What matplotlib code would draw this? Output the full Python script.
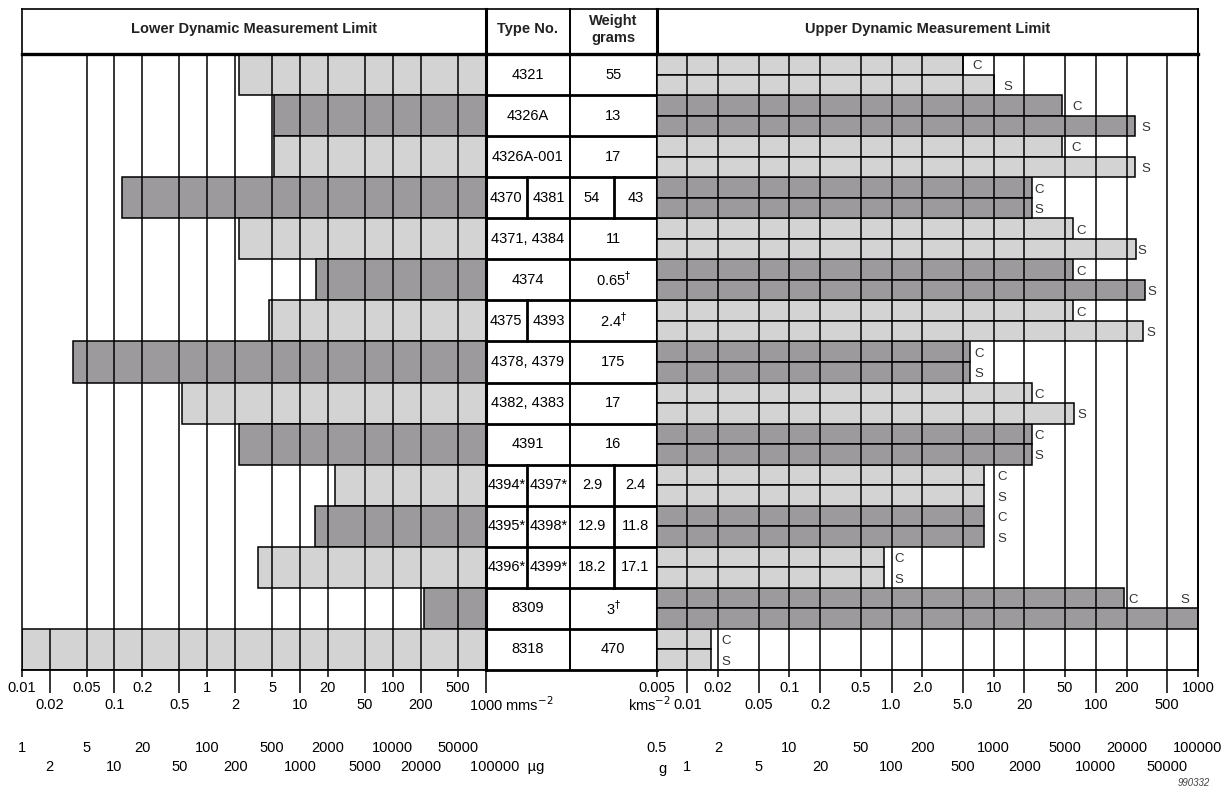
import numpy as np
import matplotlib
matplotlib.use('Agg')
import matplotlib.pyplot as plt
from matplotlib import font_manager

# ------------------------------------------------------------------
# values
# ------------------------------------------------------------------
type_no = ["4321", "4326A", "4326A-001", "4370|4381", "4371, 4384", "4374",
           "4375|4393", "4378, 4379", "4382, 4383", "4391", "4394*|4397*",
           "4395*|4398*", "4396*|4399*", "8309", "8318"]
weight_g = ["55", "13", "17", "54|43", "11", r"0.65$^{\dagger}$", r"2.4$^{\dagger}$",
            "175", "17", "16", "2.9|2.4", "12.9|11.8", "18.2|17.1", r"3$^{\dagger}$", "470"]

# lower dynamic limit (mms^-2)
lower_limit = [2.2, 5.3, 5.3, 0.12, 2.2, 15, 4.6, 0.036, 0.53, 2.2, 24, 14.5, 3.5, 215, 0.01]
# upper dynamic limit (kms^-2), C and S
upper_c = [5, 47, 47, 23.5, 60, 60, 60, 5.9, 23.5, 23.5, 8, 8, 0.85, 190, 0.017]
upper_s = [10, 240, 240, 23.5, 245, 300, 290, 5.9, 61, 23.5, 8, 8, 0.85, 1000, 0.017]

mms_ticks = [0.01, 0.02, 0.05, 0.1, 0.2, 0.5, 1, 2, 5, 10, 20, 50, 100, 200, 500, 1000]
mms_labels = ["0.01", "0.02", "0.05", "0.1", "0.2", "0.5", "1", "2", "5", "10", "20",
              "50", "100", "200", "500", "1000"]
ug_labels = ["1", "2", "5", "10", "20", "50", "100", "200", "500", "1000", "2000", "5000",
             "10000", "20000", "50000", "100000"]
kms_ticks = [0.005, 0.01, 0.02, 0.05, 0.1, 0.2, 0.5, 1, 2, 5, 10, 20, 50, 100, 200, 500, 1000]
kms_labels = ["0.005", "0.01", "0.02", "0.05", "0.1", "0.2", "0.5", "1.0", "2.0", "5.0",
              "10", "20", "50", "100", "200", "500", "1000"]
g_labels = ["0.5", "1", "2", "5", "10", "20", "50", "100", "200", "500", "1000", "2000",
            "5000", "10000", "20000", "50000", "100000"]

# ------------------------------------------------------------------
names = {f.name for f in font_manager.fontManager.ttflist}
FONT = 'Liberation Sans Narrow' if 'Liberation Sans Narrow' in names else 'Liberation Sans'
plt.rcParams['font.family'] = [FONT, 'DejaVu Sans']

LIGHT, DARK = '#d3d3d3', '#9c9a9c'
W, H = 1222, 789
TOP, BOT = 54, 670
XL0, XL1, XT1, XR1 = 21.7, 485.5, 656.5, 1198
PANEL_H = BOT - TOP
LW = 1.1
FS = 10.5

fig = plt.figure(figsize=(W / 100, H / 100), dpi=100)


def box(x0, y0, x1, y1):
    return [x0 / W, 1 - y1 / H, (x1 - x0) / W, (y1 - y0) / H]


def yfrac(ypx):
    # pixel row below the panels -> axes fraction
    return -(ypx - BOT) / PANEL_H


n = len(type_no)
rows = np.arange(n)
colors = [LIGHT if i % 2 == 0 else DARK for i in rows]

ax_l = fig.add_axes(box(XL0, TOP, XL1, BOT))
ax_t = fig.add_axes(box(XL1, TOP, XT1, BOT))
ax_r = fig.add_axes(box(XT1, TOP, XR1, BOT))
ax_h = fig.add_axes(box(XL0, 9, XR1, TOP))

for ax in (ax_l, ax_r):
    ax.set_xscale('log')
    ax.set_ylim(n, 0)
    ax.tick_params(which='both', length=0, labelbottom=False, labelleft=False)
    for s in ax.spines.values():
        s.set_visible(False)
    ax.spines['bottom'].set_visible(True)
    ax.spines['bottom'].set_linewidth(1.3)
    ax.patch.set_alpha(0)

# ---------------- left panel ----------------
ax_l.set_xlim(0.01, 1000)
lower = np.array(lower_limit)
ax_l.barh(rows + 0.5, 1000 - lower, left=lower, height=1.0, color=colors,
          edgecolor='black', linewidth=LW, zorder=2)
for v in mms_ticks[2:-1]:
    ax_l.axvline(v, color='black', lw=LW, zorder=3)
ax_l.vlines(0.02, n - 1, n, color='black', lw=LW, zorder=3)
ax_l.spines['left'].set_visible(True)
ax_l.spines['left'].set_linewidth(LW)

# ---------------- right panel ----------------
ax_r.set_xlim(0.005, 1000)
uc, us = np.array(upper_c), np.array(upper_s)
ax_r.barh(rows + 0.25, uc - 0.005, left=0.005, height=0.5, color=colors,
          edgecolor='black', linewidth=LW, zorder=2)
ax_r.barh(rows + 0.75, us - 0.005, left=0.005, height=0.5, color=colors,
          edgecolor='black', linewidth=LW, zorder=2)
for v in kms_ticks[1:-1]:
    ax_r.axvline(v, color='black', lw=LW, zorder=3)
ax_r.spines['right'].set_visible(True)
ax_r.spines['right'].set_linewidth(1.4)

# C / S labels (gap to bar end in px)
c_gap = [9, 10, 9, 3, 3, 3, 3, 4, 3, 3, 14, 14, 10, 4, 11]
s_gap = [10, 7, 7, 3, 2, 3, 3, 4, 4, 3, 14, 14, 10, None, 11]
for i in rows:
    ax_r.annotate('C', (uc[i], i + 0.25), xytext=(c_gap[i] * 0.72, -1.5),
                  textcoords='offset points', ha='left', va='center', fontsize=FS - 1,
                  color='#333333', zorder=5)
    if s_gap[i] is None:
        ax_r.annotate('S', (1000, i + 0.25), xytext=(-6, -1.5),
                      textcoords='offset points', ha='right', va='center',
                      fontsize=FS - 1, color='#333333', zorder=5)
    else:
        ax_r.annotate('S', (us[i], i + 0.75), xytext=(s_gap[i] * 0.72, -1.5),
                      textcoords='offset points', ha='left', va='center',
                      fontsize=FS - 1, color='#333333', zorder=5)

# ---------------- axis ticks & unit labels ----------------
def scale_labels(ax, ticks, first, second):
    tr = ax.get_xaxis_transform()
    for k, (v, a, b) in enumerate(zip(ticks, first, second)):
        low = k % 2 == 1
        ax.vlines(v, yfrac(693 if low else 677), 0, transform=tr, color='black',
                  lw=LW, clip_on=False)
        ax.text(v, yfrac(705 if low else 688), a, transform=tr, ha='center',
                va='center', fontsize=FS, clip_on=False)
        ax.text(v, yfrac(767 if low else 748), b, transform=tr, ha='center',
                va='center', fontsize=FS, clip_on=False)


scale_labels(ax_l, mms_ticks[:-1], mms_labels[:-1], ug_labels[:-1])
scale_labels(ax_r, kms_ticks, kms_labels, g_labels)

# last left tick carries the unit names
trl = ax_l.get_xaxis_transform()
ax_l.vlines(1000, yfrac(693), 0, transform=trl, color='black', lw=LW, clip_on=False)
ax_l.annotate('1000 mms$^{-2}$', (1000, yfrac(705)), xycoords=trl, xytext=(-12, 0),
              textcoords='offset points', ha='left', va='center', fontsize=FS,
              annotation_clip=False)
ax_l.annotate('100000  \u00b5g', (1000, yfrac(767)), xycoords=trl, xytext=(-11, 0),
              textcoords='offset points', ha='left', va='center', fontsize=FS,
              annotation_clip=False)
trr = ax_r.get_xaxis_transform()
ax_r.annotate('kms$^{-2}$', (0.01, yfrac(705)), xycoords=trr, xytext=(-12, 0),
              textcoords='offset points', ha='right', va='center', fontsize=FS,
              annotation_clip=False)
ax_r.annotate('g', (0.01, yfrac(769)), xycoords=trr, xytext=(-18, 0),
              textcoords='offset points', ha='center', va='center', fontsize=FS,
              annotation_clip=False)

# ---------------- table ----------------
TW = XT1 - XL1
XC = 570 - XL1
XS1, XS2 = 527 - XL1, 614 - XL1
ax_t.set_xlim(0, TW)
ax_t.set_ylim(n, 0)
ax_t.axis('off')
for i in range(n + 1):
    ax_t.plot([0, TW], [i, i], color='black', lw=2.0, clip_on=False, solid_capstyle='butt')
ax_t.plot([0, 0], [0, n], color='black', lw=2.2, clip_on=False)
ax_t.plot([TW, TW], [0, n], color='black', lw=2.2, clip_on=False)
ax_t.plot([XC, XC], [0, n], color='black', lw=1.4, clip_on=False)

for i, (t, w) in enumerate(zip(type_no, weight_g)):
    yc = i + 0.5
    if '|' in t:
        a, b = t.split('|')
        ax_t.plot([XS1, XS1], [i, i + 1], color='black', lw=2.0)
        ax_t.text(XS1 / 2, yc, a, ha='center', va='center', fontsize=FS)
        ax_t.text((XS1 + XC) / 2, yc, b, ha='center', va='center', fontsize=FS)
    else:
        ax_t.text(XC / 2, yc, t, ha='center', va='center', fontsize=FS)
    if '|' in w:
        a, b = w.split('|')
        ax_t.plot([XS2, XS2], [i, i + 1], color='black', lw=2.0)
        ax_t.text((XC + XS2) / 2, yc, a, ha='center', va='center', fontsize=FS)
        ax_t.text((XS2 + TW) / 2, yc, b, ha='center', va='center', fontsize=FS)
    else:
        ax_t.text((XC + TW) / 2, yc, w, ha='center', va='center', fontsize=FS)

# ---------------- header ----------------
ax_h.set_xlim(XL0, XR1)
ax_h.set_ylim(TOP, 9)
ax_h.axis('off')
ax_h.plot([XL0, XR1], [9, 9], color='black', lw=1.2, clip_on=False)
ax_h.plot([XL0, XR1], [TOP, TOP], color='black', lw=2.4, clip_on=False)
ax_h.plot([XL0, XL0], [9, TOP], color='black', lw=1.2, clip_on=False)
ax_h.plot([XR1, XR1], [9, TOP], color='black', lw=1.4, clip_on=False)
for x, lw in ((XL1, 2.2), (570, 1.4), (XT1, 2.2)):
    ax_h.plot([x, x], [9, TOP], color='black', lw=lw, clip_on=False)
hkw = dict(ha='center', va='center', fontsize=FS, fontweight='bold', color='#222222')
ax_h.text((XL0 + XL1) / 2, 29, 'Lower Dynamic Measurement Limit', **hkw)
ax_h.text((XL1 + 570) / 2, 29, 'Type No.', **hkw)
ax_h.text((570 + XT1) / 2, 21, 'Weight', **hkw)
ax_h.text((570 + XT1) / 2, 38, 'grams', **hkw)
ax_h.text((XT1 + XR1) / 2, 29, 'Upper Dynamic Measurement Limit', **hkw)

fig.text(1210 / W, 1 - 783 / H, '990332', ha='right', va='center', fontsize=7,
         style='italic', color='#444444')

fig.savefig('out.png', dpi=100)
